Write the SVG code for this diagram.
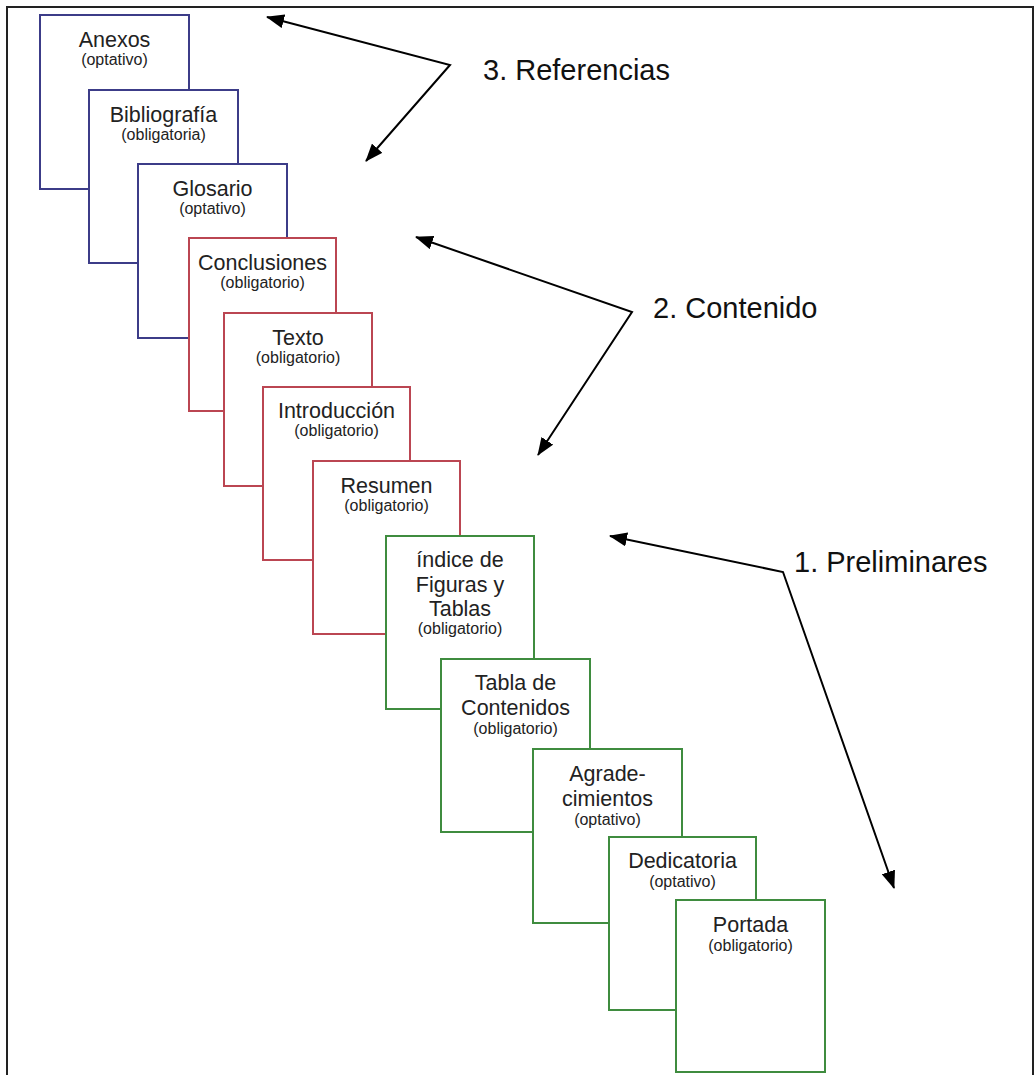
<svg xmlns="http://www.w3.org/2000/svg" width="1034" height="1075" viewBox="0 0 1034 1075">
<style>
.box{fill:#ffffff;stroke-width:2}
.b{stroke:#3c3c88}
.r{stroke:#bb4652}
.g{stroke:#3f8c3f}
.t{font-family:"Liberation Sans",Arial,sans-serif;font-size:21.5px;fill:#222;text-anchor:middle}
.s{font-family:"Liberation Sans",Arial,sans-serif;font-size:16px;fill:#222;text-anchor:middle}
.lbl{font-family:"Liberation Sans",Arial,sans-serif;font-size:29px;fill:#111}
.frame{stroke:#222;stroke-width:2;fill:none}
.conn{fill:none;stroke:#000;stroke-width:2}
</style>
<defs>
<marker id="ah" viewBox="0 0 18 14" refX="17" refY="7" markerWidth="18" markerHeight="14" markerUnits="userSpaceOnUse" orient="auto-start-reverse">
<path d="M0,0 L18,7 L0,14 Z" fill="#000"/>
</marker>
</defs>
<rect width="1034" height="1075" fill="#ffffff"/>
<g id="frame">
<path class="frame" d="M7,1075 L7,7 L1034,7"/>
<line class="frame" x1="1033" y1="7" x2="1033" y2="1075" stroke-width="1"/>
</g>
<g id="anexos"><rect class="box b" x="40" y="15" width="149" height="174"/><text class="t" x="114.5" y="47">Anexos</text><text class="s" x="114.5" y="65">(optativo)</text></g>
<g id="bibliografia"><rect class="box b" x="89" y="90" width="149" height="173"/><text class="t" x="163.5" y="122">Bibliografía</text><text class="s" x="163.5" y="140">(obligatoria)</text></g>
<g id="glosario"><rect class="box b" x="138" y="164" width="149" height="174"/><text class="t" x="212.5" y="196">Glosario</text><text class="s" x="212.5" y="214">(optativo)</text></g>
<g id="conclusiones"><rect class="box r" x="189" y="238" width="147" height="173"/><text class="t" x="262.5" y="270">Conclusiones</text><text class="s" x="262.5" y="288">(obligatorio)</text></g>
<g id="texto"><rect class="box r" x="224" y="313" width="148" height="173"/><text class="t" x="298" y="345">Texto</text><text class="s" x="298" y="363">(obligatorio)</text></g>
<g id="introduccion"><rect class="box r" x="263" y="387" width="147" height="173"/><text class="t" x="336.5" y="418">Introducción</text><text class="s" x="336.5" y="436">(obligatorio)</text></g>
<g id="resumen"><rect class="box r" x="313" y="461" width="147" height="173"/><text class="t" x="386.5" y="493">Resumen</text><text class="s" x="386.5" y="511">(obligatorio)</text></g>
<g id="indice"><rect class="box g" x="386" y="536" width="148" height="173"/><text class="t" x="460" y="567">índice de</text><text class="t" x="460" y="592">Figuras y</text><text class="t" x="460" y="616">Tablas</text><text class="s" x="460" y="634">(obligatorio)</text></g>
<g id="tabla"><rect class="box g" x="441" y="659" width="149" height="173"/><text class="t" x="515.5" y="690">Tabla de</text><text class="t" x="515.5" y="715">Contenidos</text><text class="s" x="515.5" y="734">(obligatorio)</text></g>
<g id="agradecimientos"><rect class="box g" x="533" y="749" width="149" height="174"/><text class="t" x="607.5" y="781">Agrade-</text><text class="t" x="607.5" y="806">cimientos</text><text class="s" x="607.5" y="825">(optativo)</text></g>
<g id="dedicatoria"><rect class="box g" x="609" y="837" width="147" height="173"/><text class="t" x="682.5" y="868">Dedicatoria</text><text class="s" x="682.5" y="887">(optativo)</text></g>
<g id="portada"><rect class="box g" x="676" y="900" width="149" height="172"/><text class="t" x="750.5" y="932">Portada</text><text class="s" x="750.5" y="951">(obligatorio)</text></g>
<g id="connectors">
<path class="conn" d="M267,17 L450,65 L366,161" marker-start="url(#ah)" marker-end="url(#ah)"/>
<path class="conn" d="M416,237 L632,312 L538,455" marker-start="url(#ah)" marker-end="url(#ah)"/>
<path class="conn" d="M610,536 L783,572 L894,888" marker-start="url(#ah)" marker-end="url(#ah)"/>
</g>
<g id="labels">
<text class="lbl" x="483" y="80">3. Referencias</text>
<text class="lbl" x="653" y="318">2. Contenido</text>
<text class="lbl" x="794" y="572">1. Preliminares</text>
</g>
</svg>
